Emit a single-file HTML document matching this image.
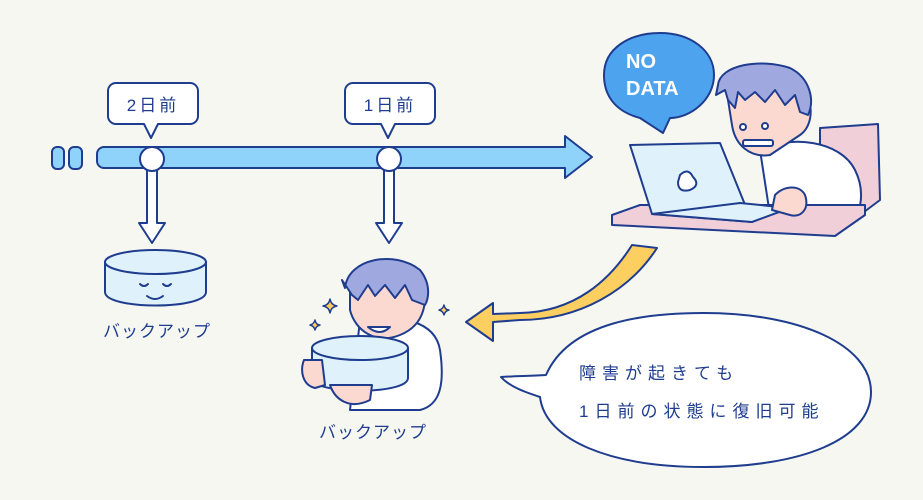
<!DOCTYPE html>
<html><head><meta charset="utf-8"><style>
html,body{margin:0;padding:0;background:#f7f7f2;}
svg{display:block;}
text{font-family:"Liberation Sans","Noto Sans CJK JP",sans-serif;fill:#1f3d8f;}
</style></head><body>
<svg width="923" height="500" viewBox="0 0 923 500" xmlns="http://www.w3.org/2000/svg">
<rect width="923" height="500" fill="#f7f7f2"/>
<g stroke="#1f3d8f" stroke-width="2" stroke-linejoin="round" stroke-linecap="round">
<!-- timeline -->
<rect x="52" y="147" width="12" height="22" rx="5" fill="#8fd3fb"/>
<rect x="69" y="147" width="13" height="22" rx="5" fill="#8fd3fb"/>
<path d="M104 147 H565 V136 L592 157 L565 178 V168 H104 a7 7 0 0 1 -7 -7 V154 a7 7 0 0 1 7 -7Z" fill="#8fd3fb"/>
<!-- labels -->
<path d="M116 83 H190 a8 8 0 0 1 8 8 V116 a8 8 0 0 1 -8 8 H158 L151 138 L144 124 H116 a8 8 0 0 1 -8 -8 V91 a8 8 0 0 1 8 -8Z" fill="#fff"/>
<path d="M353 83 H427 a8 8 0 0 1 8 8 V116 a8 8 0 0 1 -8 8 H395 L388 138 L381 124 H353 a8 8 0 0 1 -8 -8 V91 a8 8 0 0 1 8 -8Z" fill="#fff"/>
<!-- down arrows -->
<path d="M147 168 V223 H139 L152 243 L165 223 H157 V168Z" fill="#fff"/>
<path d="M384 168 V223 H376 L389 243 L402 223 H394 V168Z" fill="#fff"/>
<circle cx="152" cy="159" r="12" fill="#fff"/>
<circle cx="389" cy="159" r="12" fill="#fff"/>
<!-- cylinder -->
<path d="M105 262 V292 C105 310 206 310 206 292 V262Z" fill="#dff2fb"/>
<ellipse cx="155.5" cy="262" rx="50.5" ry="12" fill="#dff2fb"/>
<path d="M140 284 q4 4 8 0 M163 284 q4 4 8 0 M147 296 q8 6 16 0" fill="none"/>
<!-- yellow arrow -->
<path d="M632 245 L657 248 C630 290 580 320 520 320 L493 322 V341 L466 322 L493 303 V314 L520 313 C575 312 610 280 632 245Z" fill="#fdcf60"/>
<!-- speech bubble -->
<path d="M546 375 C570 320 650 313 704 313 C800 313 871 345 871 392 C871 440 800 467 704 467 C610 467 545 440 540 397 C525 392 510 387 501 377 C515 376 530 376 546 375Z" fill="#fff"/>
<!-- NO DATA -->
<path d="M640 118 C610 110 604 90 604 75 C604 48 630 33 660 33 C690 33 714 50 714 75 C714 100 690 118 670 118 L663 133Z" fill="#4ea3ee"/>
<!-- chair -->
<path d="M820 128 L878 124 L880 200 L860 215 L820 200Z" fill="#f1cfd8"/>
<!-- person at laptop -->
<path d="M760 150 C790 135 840 140 855 170 C865 190 862 215 850 220 L770 215Z" fill="#fff"/>
<path d="M728 100 C730 70 770 65 795 80 C815 95 815 125 800 135 L770 155 C750 158 735 145 732 125Z" fill="#fcd9d0"/>
<path d="M718 85 C720 65 760 58 790 68 C810 78 815 100 808 115 L800 112 L795 95 L785 105 L775 90 L765 102 L755 92 L745 100 L738 92 L735 108 L728 100 L725 90 L716 95Z" fill="#a0a8e0"/>
<circle cx="743" cy="127" r="3" fill="#fff"/><circle cx="765" cy="126" r="3" fill="#fff"/>
<rect x="743" y="140" width="30" height="6" rx="2" fill="#fff"/>
<!-- desk -->
<path d="M612 215 L640 205 L865 205 L865 215 L835 236 L612 225Z" fill="#f1cfd8"/>
<!-- laptop -->
<path d="M630 145 L720 143 L752 222 L652 214Z" fill="#dff2fb"/>
<path d="M652 214 L752 222 L790 208 L740 203Z" fill="#dff2fb"/>
<path d="M680 175 q8 -8 13 2 q8 8 -3 13 q-12 3 -12 -8Z" fill="#fff"/>
<path d="M775 195 C785 185 800 185 805 195 C810 210 800 218 790 215 L772 210Z" fill="#fcd9d0"/>
<!-- hugging person -->
<path d="M360 320 C400 315 435 320 440 350 C445 385 440 405 420 410 L350 410Z" fill="#fff"/>
<path d="M350 290 C350 262 400 255 420 275 C430 300 425 325 400 335 C375 345 355 330 350 310Z" fill="#fcd9d0"/>
<path d="M345 288 C348 258 395 250 420 270 C432 285 428 300 425 305 L412 300 L405 285 L395 298 L385 285 L375 296 L368 285 L358 300 L352 295 L342 280Z" fill="#a0a8e0"/>
<path d="M368 327 q12 10 22 0Z" fill="#fff"/>
<path d="M312 348 V378 C312 395 408 395 408 378 V348Z" fill="#dff2fb"/>
<ellipse cx="360" cy="348" rx="48" ry="12" fill="#dff2fb"/>
<path d="M304 360 C300 370 302 385 315 388 L325 385 L322 360Z" fill="#fcd9d0"/>
<path d="M330 385 C335 400 350 410 370 400 L372 385Z" fill="#fcd9d0"/>
<path d="M330 299 q1 6 7 7 q-6 1 -7 7 q-1 -6 -7 -7 q6 -1 7 -7Z M315 320 q1 5 5 5 q-4 1 -5 5 q-1 -4 -5 -5 q4 -1 5 -5Z M444 305 q1 5 5 5 q-4 1 -5 5 q-1 -4 -5 -5 q4 -1 5 -5Z" fill="#fdcf60" stroke-width="1.5"/>
</g>
<g font-size="17">
<text x="153" y="111" text-anchor="middle" letter-spacing="3">2日前</text>
<text x="390" y="111" text-anchor="middle" letter-spacing="3">1日前</text>
<text x="157" y="337" text-anchor="middle" letter-spacing="1">バックアップ</text>
<text x="373" y="438" text-anchor="middle" letter-spacing="1">バックアップ</text>
<text x="579" y="379" letter-spacing="6">障害が起きても</text>
<text x="579" y="417" letter-spacing="6">1日前の状態に復旧可能</text>
</g>
<text x="626" y="68" font-size="20" font-weight="bold" style="fill:#fff">NO</text>
<text x="626" y="95" font-size="20" font-weight="bold" style="fill:#fff">DATA</text>
</svg>
</body></html>
